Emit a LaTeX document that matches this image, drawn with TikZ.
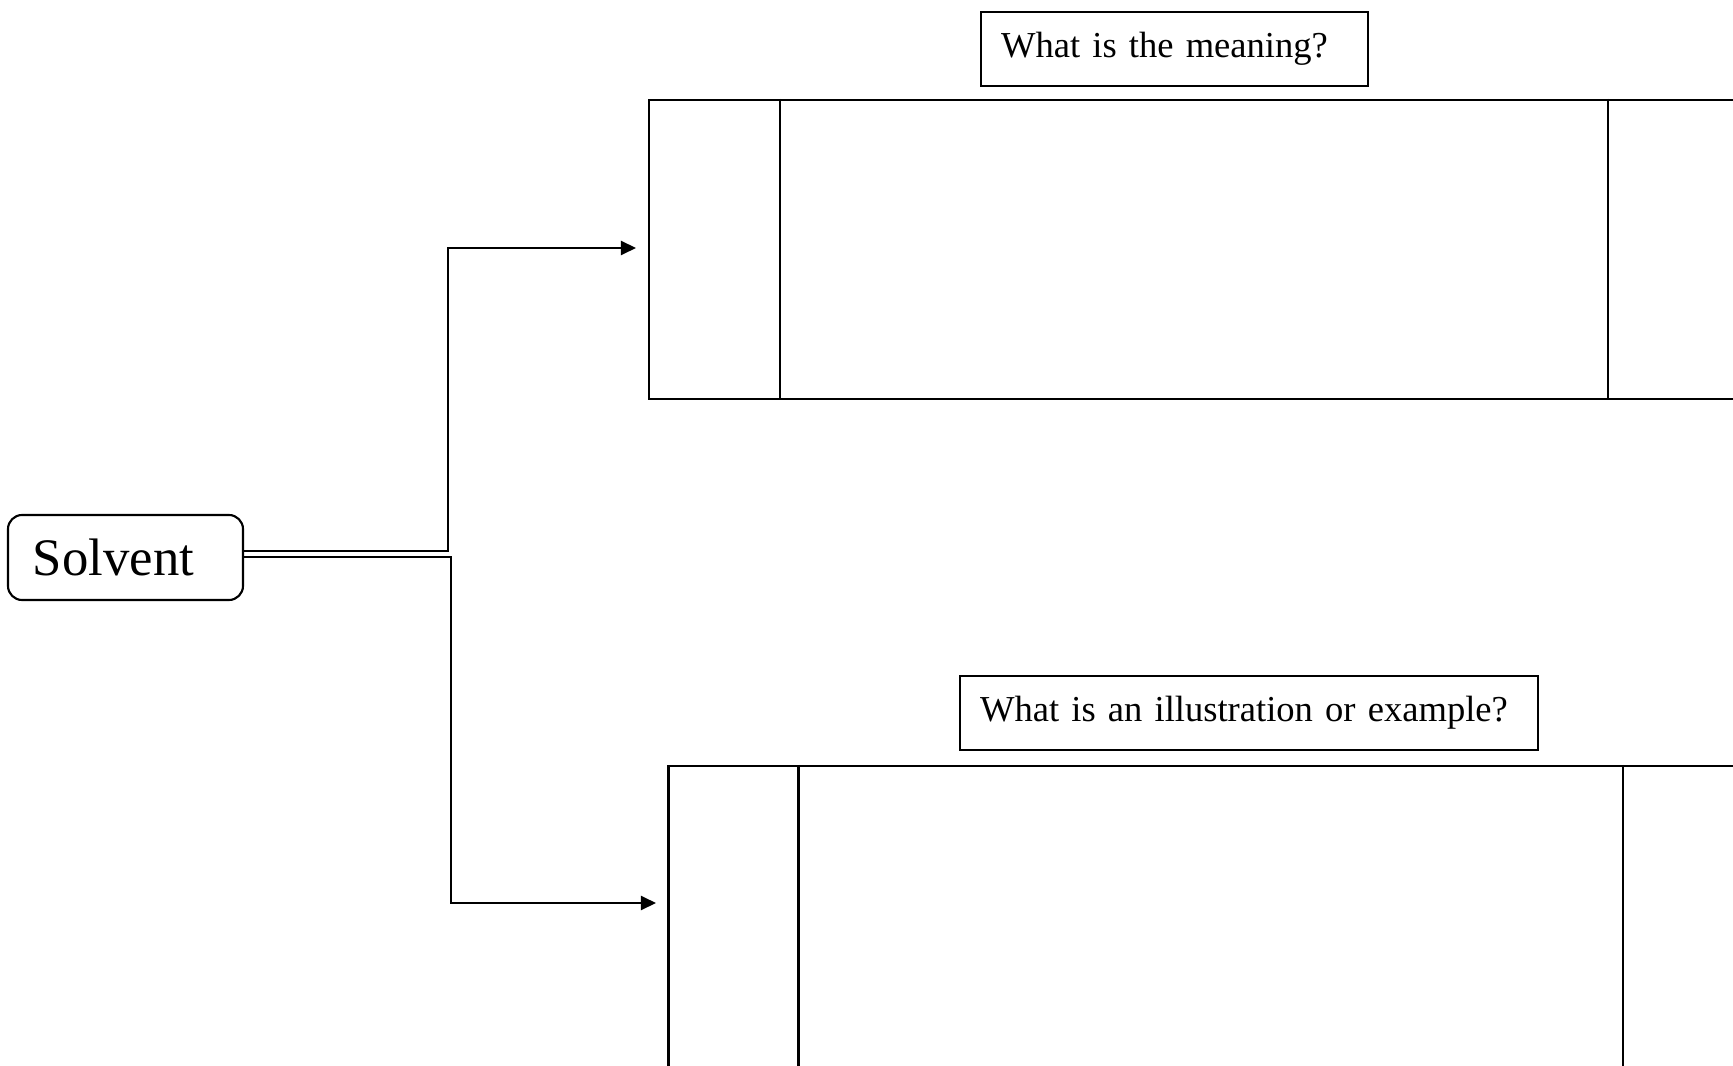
\documentclass[tikz,border=0pt]{standalone}
\usepackage{fontspec}
\setmainfont{Liberation Serif}
\usetikzlibrary{arrows.meta}

\begin{document}
\begin{tikzpicture}[
    line width=0.6pt,
    qbox/.style={draw, inner xsep=0.2cm, minimum height=0.74cm, align=left,
        font=\fontsize{10.4}{12}\selectfont},
    bigbox/.style={draw},
    arr/.style={-{Triangle[length=4.3pt,width=4pt]}}
]
    \path[use as bounding box, clip] (0,0) rectangle (17.33,-10.66);

    % Define the positions of the nodes
    \node[draw, rounded corners=4pt, minimum width=2.35cm, minimum height=0.85cm,
        inner xsep=0.25cm, text width=1.85cm, align=left,
        font=\fontsize{15}{18}\selectfont] (solvent) at (1.255,-5.575) {Solvent};

    \node[qbox, text width=3.47cm] (q1) at (11.745,-0.49) {What is the meaning?};
    \node[bigbox, minimum width=10.9cm, minimum height=2.99cm] (box1) at (11.94,-2.495) {};

    \node[qbox, text width=5.38cm] (q2) at (12.49,-7.13) {What is an illustration or example?};
    \node[bigbox, minimum width=10.85cm, minimum height=3.1cm] (box2) at (12.11,-9.21) {};

    % the margin columns of the boxes
    \draw ([xshift=1.32cm]box1.north west) -- ([xshift=1.32cm]box1.south west);
    \draw ([xshift=-1.32cm]box1.north east) -- ([xshift=-1.32cm]box1.south east);
    \draw ([xshift=1.31cm]box2.north west) -- ([xshift=1.31cm]box2.south west);
    \draw ([xshift=-1.32cm]box2.north east) -- ([xshift=-1.32cm]box2.south east);

    % Draw the edges
    \coordinate (bend1) at (4.48,-2.48);
    \coordinate (tip1) at (6.36,-2.48);
    \coordinate (bend2) at (4.51,-9.03);
    \coordinate (tip2) at (6.56,-9.03);

    \draw[arr] ([yshift=0.065cm]solvent.east) -| (bend1) -- (tip1);
    \draw[arr] ([yshift=0.005cm]solvent.east) -| (bend2) -- (tip2);
\end{tikzpicture}
\end{document}
